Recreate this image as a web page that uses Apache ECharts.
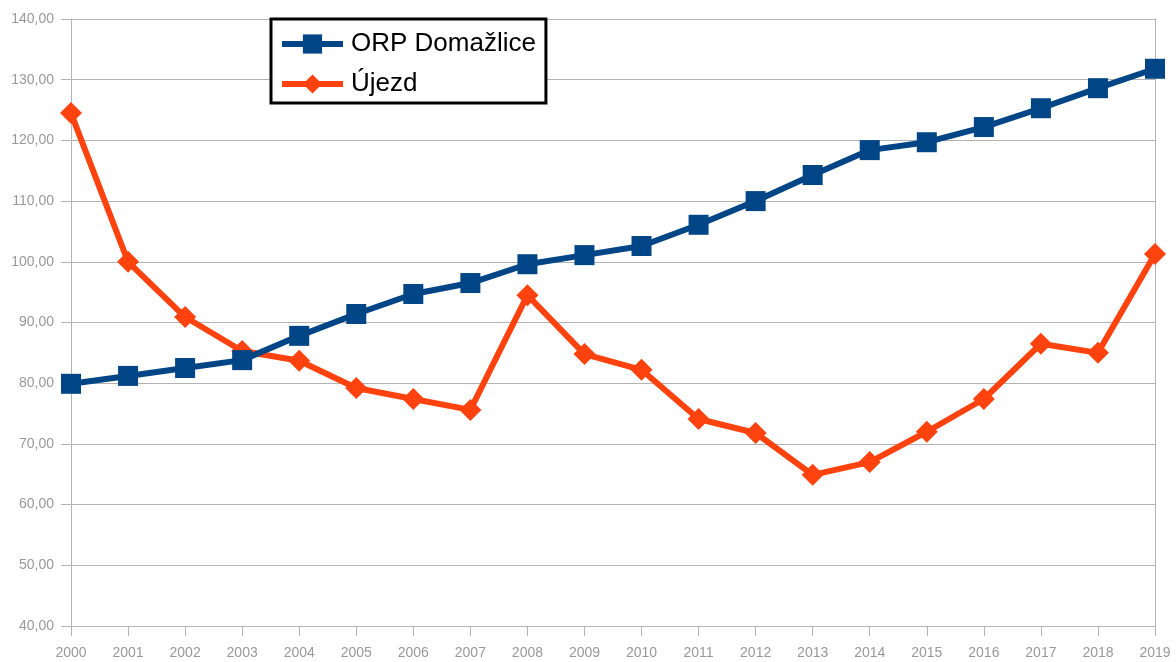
<!DOCTYPE html>
<html>
<head>
<meta charset="utf-8">
<script src="https://cdn.jsdelivr.net/npm/echarts@6/dist/echarts.min.js"></script>
<style>
  html, body { margin: 0; padding: 0; background: #fff; }
  #chart { width: 1176px; height: 662px; }
</style>
</head>
<body>
<div id="chart"></div>
<script>
// data
var years = ['2000', '2001', '2002', '2003', '2004', '2005', '2006', '2007', '2008', '2009',
  '2010', '2011', '2012', '2013', '2014', '2015', '2016', '2017', '2018', '2019']
var orpDomazlice = [79.9, 81.2, 82.5, 83.8, 87.8, 91.4, 94.7, 96.5, 99.6, 101.1,
  102.6, 106.1, 110.0, 114.3, 118.4, 119.7, 122.2, 125.3, 128.6, 131.8]
var ujezd = [124.5, 100.0, 90.9, 85.3, 83.7, 79.2, 77.4, 75.6, 94.5, 84.8,
  82.2, 74.1, 71.8, 64.9, 67.0, 72.0, 77.4, 86.5, 85.0, 101.3]

var axisGray = '#b3b3b3'
var labelGray = '#999999'

var chart = echarts.init(document.getElementById('chart'))
chart.setOption({
  animation: false,
  textStyle: { fontFamily: 'Liberation Sans' },
  legend: {
    left: 271,
    top: 19,
    orient: 'vertical',
    padding: [12, 10, 6, 8],
    itemGap: 14,
    itemWidth: 61,
    itemHeight: 24,
    borderColor: '#000',
    borderWidth: 3,
    backgroundColor: '#fff',
    lineStyle: { width: 6 },
    textStyle: {
      color: '#000',
      fontSize: 26,
      fontFamily: 'Liberation Sans',
      padding: [0, 0, 0, 3]
    },
    data: ['ORP Domažlice', 'Újezd']
  },
  grid: {
    left: 71,
    right: 21,
    top: 19,
    bottom: 36,
    containLabel: false
  },
  xAxis: {
    type: 'category',
    boundaryGap: false,
    data: years,
    axisLine: { lineStyle: { color: axisGray, width: 1 } },
    axisTick: { alignWithLabel: true, length: 10, lineStyle: { color: axisGray } },
    axisLabel: { color: labelGray, fontSize: 14, margin: 20, interval: 0 },
    splitLine: { show: false }
  },
  yAxis: [{
    type: 'value',
    min: 40,
    max: 140,
    interval: 10,
    axisLine: { show: true, lineStyle: { color: axisGray } },
    axisTick: { show: true, length: 10, lineStyle: { color: axisGray } },
    axisLabel: {
      color: labelGray,
      fontSize: 14,
      margin: 17,
      formatter: function (v) { return v.toFixed(2).replace('.', ',') }
    },
    splitLine: { lineStyle: { color: axisGray, width: 1 } }
  }, {
    type: 'value',
    position: 'right',
    min: 40,
    max: 140,
    interval: 10,
    axisLine: { show: true, lineStyle: { color: axisGray } },
    axisTick: { show: false },
    axisLabel: { show: false },
    splitLine: { show: false }
  }],
  series: [{
    name: 'ORP Domažlice',
    type: 'line',
    data: orpDomazlice,
    symbol: 'rect',
    symbolSize: 20,
    color: '#004586',
    lineStyle: { width: 6, color: '#004586' },
    itemStyle: { color: '#004586' },
    z: 3
  }, {
    name: 'Újezd',
    type: 'line',
    data: ujezd,
    symbol: 'diamond',
    symbolSize: 22,
    color: '#ff420e',
    lineStyle: { width: 6, color: '#ff420e' },
    itemStyle: { color: '#ff420e' },
    z: 2
  }]
})
</script>
</body>
</html>
